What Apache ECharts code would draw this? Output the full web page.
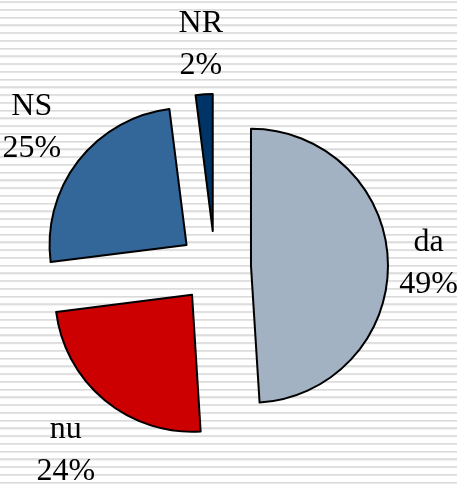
<!DOCTYPE html>
<html>
<head>
<meta charset="utf-8">
<script src="https://cdn.jsdelivr.net/npm/echarts@6/dist/echarts.min.js"></script>
<style>
  html, body { margin: 0; padding: 0; }
  body {
    width: 457px; height: 488px; overflow: hidden;
    background: repeating-linear-gradient(to bottom,
      #ffffff 0px, #ffffff 1px,
      #e6e6e6 1px, #dadada 2px, #e8e8e8 3px,
      #ffffff 3.6px, #ffffff 7.75px);
  }
  #chart { width: 457px; height: 488px; }
</style>
</head>
<body>
<div id="chart"></div>
<script>
// Answer categories and their shares (percent)
const categories = ['da', 'nu', 'NS', 'NR'];
const shares = [49, 24, 25, 2];
const sliceColors = ['#A3B2C2', '#CC0000', '#336699', '#003366'];

const CENTER = [215, 267];
const RADIUS = 137;
const EXPLODE = 36;
const LABEL_GAP = 10;
const LABEL_DY = 3;
const LABEL_FONT = '32px "Liberation Serif", "DejaVu Serif", serif';
const LABEL_LINE_HEIGHT = 42;

const total = shares.reduce((a, b) => a + b, 0);

// Mid-angle direction of each slice (clockwise from 12 o'clock)
function sliceDirection(idx) {
  let before = 0;
  for (let i = 0; i < idx; i++) before += shares[i];
  const mid = (before + shares[idx] / 2) / total * 2 * Math.PI;
  return [Math.sin(mid), -Math.cos(mid)];
}

// Width of the widest line of a label
const measureCtx = document.createElement('canvas').getContext('2d');
measureCtx.font = LABEL_FONT;
function labelWidth(lines) {
  return Math.max.apply(null, lines.map(t => measureCtx.measureText(t).width));
}

// Labels sit just outside each exploded slice, along its mid-angle
const labelTexts = categories.map((name, i) => [name, shares[i] + '%']);
const labelGraphics = labelTexts.map((lines, i) => {
  const d = sliceDirection(i);
  const hw = labelWidth(lines) / 2;
  const hh = lines.length * LABEL_LINE_HEIGHT / 2;
  const support = Math.abs(d[0]) * hw + Math.abs(d[1]) * hh;
  const dist = EXPLODE + RADIUS + LABEL_GAP + support;
  return {
    type: 'text',
    x: CENTER[0] + d[0] * dist,
    y: CENTER[1] + d[1] * dist + LABEL_DY,
    silent: true,
    style: {
      text: lines.join('\n'),
      font: LABEL_FONT,
      lineHeight: LABEL_LINE_HEIGHT,
      fill: '#000',
      textAlign: 'center',
      textVerticalAlign: 'middle'
    }
  };
});

const chart = echarts.init(document.getElementById('chart'), null, { renderer: 'canvas' });

chart.setOption({
  backgroundColor: 'transparent',
  animation: false,
  graphic: { elements: labelGraphics },
  series: [{
    type: 'pie',
    center: CENTER,
    radius: RADIUS,
    startAngle: 90,
    clockwise: true,
    selectedMode: 'multiple',
    selectedOffset: EXPLODE,
    itemStyle: { borderColor: '#000', borderWidth: 2 },
    emphasis: { disabled: true },
    label: { show: false },
    labelLine: { show: false },
    data: categories.map((name, i) => ({
      name: name,
      value: shares[i],
      selected: true,
      itemStyle: { color: sliceColors[i] },
      select: { itemStyle: { color: sliceColors[i], borderColor: '#000', borderWidth: 2 } }
    }))
  }]
});
</script>
</body>
</html>
